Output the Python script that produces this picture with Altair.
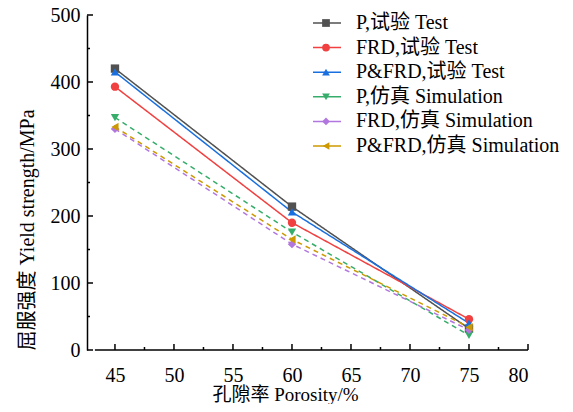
import altair as alt
import pandas as pd

series = ["P,试验 Test", "FRD,试验 Test", "P&FRD,试验 Test",
          "P,仿真 Simulation", "FRD,仿真 Simulation", "P&FRD,仿真 Simulation"]
porosity = [45, 60, 75]
p_test = [420, 214, 32]
frd_test = [393, 190, 46]
pfrd_test = [415, 206, 40]
p_sim = [347, 176, 22]
frd_sim = [330, 158, 30]
pfrd_sim = [333, 165, 34]

colors = ["#515151", "#F14040", "#1A6FDF", "#37AD6B", "#B177DE", "#CC9900"]
shapes = ["square", "circle", "triangle-up", "triangle-down", "diamond", "triangle-left"]
dashes = [[1, 0], [1, 0], [1, 0], [5, 4], [5, 4], [5, 4]]

x_major = [45, 50, 55, 60, 65, 70, 75, 80]
x_minor = [47.5, 52.5, 57.5, 62.5, 67.5, 72.5, 77.5]
y_major = [0, 100, 200, 300, 400, 500]
y_minor = [50, 150, 250, 350, 450]

rows = []
for name, vals in zip(series, [p_test, frd_test, pfrd_test, p_sim, frd_sim, pfrd_sim]):
    for xv, yv in zip(porosity, vals):
        rows.append({"series": name, "series_p": name, "x": xv, "y": yv})
df = pd.DataFrame(rows)

W, H = 441, 335
FONT = "Liberation Serif, Noto Sans CJK SC"
xs = alt.Scale(domain=[42.63, 80], nice=False, zero=False)
ys = alt.Scale(domain=[0, 500], nice=False)

base = alt.Chart(df)

lines = base.mark_line(strokeWidth=1.5).encode(
    x=alt.X("x:Q", scale=xs, axis=alt.Axis(values=x_major, title="孔隙率 Porosity/%", domain=False,
                                          ticks=False, grid=False, labelPadding=15,
                                          labelFontSize=20, titleFontSize=19, labelFont=FONT, titleFont=FONT,
                                          titleFontWeight="normal", titleX=198, titleY=44,
                                          titleBaseline="middle", labelColor="#000", titleColor="#000")),
    y=alt.Y("y:Q", scale=ys, axis=alt.Axis(values=y_major, title="屈服强度 Yield strength/MPa",
                                          domainColor="#000", domainWidth=1.5, ticks=False, grid=False,
                                          labelPadding=7, labelFontSize=20, titleFontSize=20,
                                          labelFont=FONT, titleFont=FONT, titleFontWeight="normal",
                                          titleX=-60, titleAnchor="start", titleBaseline="middle",
                                          labelColor="#000", titleColor="#000")),
    color=alt.Color("series:N", scale=alt.Scale(domain=series, range=colors),
                    legend=alt.Legend(title=None, orient="none", legendX=225, legendY=-2,
                                      symbolType="stroke", symbolSize=784, symbolStrokeWidth=1.5,
                                      labelFontSize=20, labelFont=FONT, labelColor="#000",
                                      rowPadding=4.6, labelOffset=14, clipHeight=20, labelLimit=400)),
    strokeDash=alt.StrokeDash("series:N", scale=alt.Scale(domain=series, range=dashes), legend=None),
    detail="series:N",
)

points = base.mark_point(filled=True, opacity=1, size=70).encode(
    x=alt.X("x:Q", scale=xs),
    y=alt.Y("y:Q", scale=ys),
    color=alt.Color("series_p:N", scale=alt.Scale(domain=series, range=colors),
                    legend=alt.Legend(title=None, orient="none", legendX=229, legendY=-2,
                                      symbolSize=60, labelFontSize=20, labelFont=FONT,
                                      labelExpr="''", rowPadding=4.6, clipHeight=20,
                                      symbolStrokeWidth=0, labelLimit=400)),
    shape=alt.Shape("series_p:N", scale=alt.Scale(domain=series, range=shapes)),
)

# inward axis ticks and x-axis line
xaxis_line = alt.Chart(pd.DataFrame({"a": [43.3], "b": [80]})).mark_rule(color="#000", strokeWidth=1.5).encode(
    x=alt.X("a:Q", scale=xs), x2="b:Q", y=alt.value(H))
xmaj = alt.Chart(pd.DataFrame({"v": x_major})).mark_rule(color="#000", strokeWidth=1.5).encode(
    x=alt.X("v:Q", scale=xs), y=alt.value(H), y2=alt.value(H - 6))
xmin = alt.Chart(pd.DataFrame({"v": x_minor})).mark_rule(color="#000", strokeWidth=1.5).encode(
    x=alt.X("v:Q", scale=xs), y=alt.value(H), y2=alt.value(H - 3))
ymaj = alt.Chart(pd.DataFrame({"v": y_major})).mark_rule(color="#000", strokeWidth=1.5).encode(
    y=alt.Y("v:Q", scale=ys), x=alt.value(0), x2=alt.value(6))
ymin = alt.Chart(pd.DataFrame({"v": y_minor})).mark_rule(color="#000", strokeWidth=1.5).encode(
    y=alt.Y("v:Q", scale=ys), x=alt.value(0), x2=alt.value(3))

chart = alt.layer(lines, points, xaxis_line, xmaj, xmin, ymaj, ymin).resolve_scale(
    color="independent", shape="independent"
).resolve_legend(color="independent", shape="independent").properties(
    width=W, height=H,
    autosize=alt.AutoSizeParams(type="none"),
    padding={"left": 79, "top": 7, "right": 37, "bottom": 54},
).configure_view(stroke=None).configure_legend(padding=0)

chart.save("out.html", embed_options={"renderer": "svg", "actions": False})
